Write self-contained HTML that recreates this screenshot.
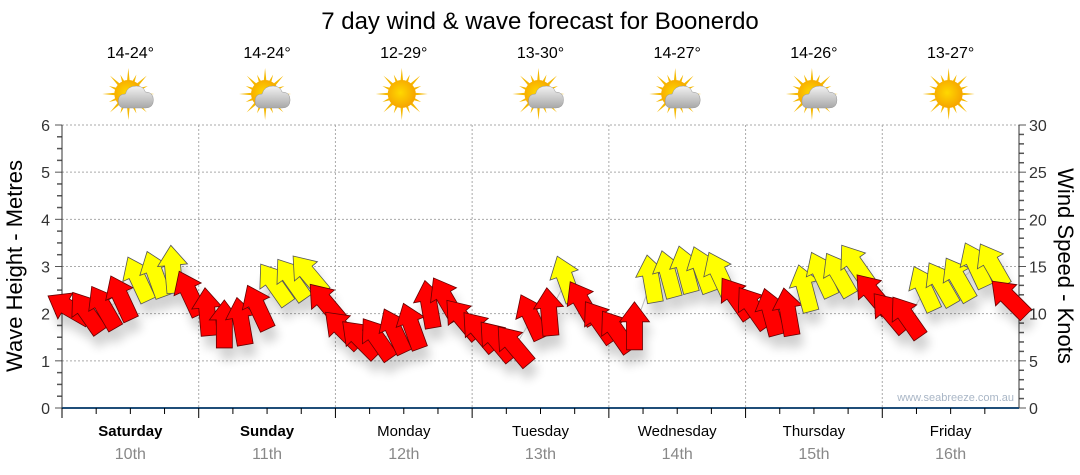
<!DOCTYPE html>
<html><head><meta charset="utf-8">
<style>
html,body{margin:0;padding:0;background:#fff;}
svg{display:block;font-family:"Liberation Sans",sans-serif;}
</style></head>
<body>
<svg id="chart" width="1080" height="475" viewBox="0 0 1080 475">
<defs>
<filter id="sh" x="-50%" y="-50%" width="200%" height="200%"><feGaussianBlur stdDeviation="5"/></filter>
<radialGradient id="sun" cx="0.45" cy="0.45" r="0.6"><stop offset="0" stop-color="#ffd800"/><stop offset="1" stop-color="#f5a000"/></radialGradient>
<linearGradient id="cloud" x1="0" y1="0" x2="0" y2="1"><stop offset="0" stop-color="#f2f2f2"/><stop offset="1" stop-color="#a8a8a8"/></linearGradient>
</defs>
<text x="540" y="29" text-anchor="middle" font-size="24" fill="#000">7 day wind &amp; wave forecast for Boonerdo</text>
<g id="grid"></g>
<g id="axes"></g>
<g id="days"></g>
<g id="shadow" filter="url(#sh)" opacity="0.18"></g>
<g id="arrows"></g>
<text transform="translate(22,266) rotate(-90)" text-anchor="middle" font-size="22" fill="#000">Wave Height - Metres</text>
<text transform="translate(1058,266) rotate(90)" text-anchor="middle" font-size="22" fill="#000">Wind Speed - Knots</text>
<text x="1014" y="401" text-anchor="end" font-size="11" fill="#a9b6c6">www.seabreeze.com.au</text>
</svg>
<script>
const dayNames = ["Saturday","Sunday","Monday","Tuesday","Wednesday","Thursday","Friday"];
const dayDates = ["10th","11th","12th","13th","14th","15th","16th"];
const temps = ["14-24°","14-24°","12-29°","13-30°","14-27°","14-26°","13-27°"];
const cloudy = [true,true,false,true,true,true,false];
const waveTicks = [0,1,2,3,4,5,6];
const windTicks = [0,5,10,15,20,25,30];
// 3-hourly wind speed (knots) and direction (degrees clockwise from up)
const windSpeed = [
 10.5,10,10.5,11.5,13.5,14,14.5,12,
 10,8.7,9,10.5,13,13.5,14,11,
 8.2,7.2,7.2,8,8.5,10.8,11.4,9.3,
 8,7,6.5,9.5,10,13.5,11,9,
 8,8.5,13.5,14,14.5,14.5,14,11.5,
 10.5,10,10,12.5,14,14,15,12,
 10,9.5,12.5,13,13.5,15,15,11.5];
const windDir = [
 -60,-35,-30,-25,-25,-20,-5,-25,
 -5,0,-10,-25,-35,-35,-40,-40,
 -45,-45,-35,-25,-20,-10,-30,-40,
 -40,-40,-40,-25,-5,-20,-30,-35,
 -35,0,-10,-15,-15,-20,-25,-35,
 -35,-15,-10,-15,-25,-30,-35,-40,
 -40,-35,-25,-30,-30,-25,-30,-45];

const NS="http://www.w3.org/2000/svg";
const X0=62, X1=1019, Y0=408, Y6=125;
const xH = h => X0 + h/168*(X1-X0);
const yWave = m => Y0 - m/6*(Y0-Y6);
const yWind = k => Y0 - k/30*(Y0-Y6);
function mk(tag, attrs, parent){const e=document.createElementNS(NS,tag);for(const k in attrs)e.setAttribute(k,attrs[k]);parent.appendChild(e);return e;}
const grid=document.getElementById('grid'), axes=document.getElementById('axes'), days=document.getElementById('days');

waveTicks.forEach(m=>{
  const y=yWave(m);
  if(m>0){const l=mk('line',{x1:X0,x2:X1,y1:y,y2:y,stroke:'#aaa','stroke-dasharray':'2,2'},grid);
  
  }
  const t=mk('text',{x:X0-12,y:y+6,'text-anchor':'end','font-size':16,fill:'#333'},axes);t.textContent=m;
  
  
});
for(let i=0;i<=24;i++){const y=yWave(i/4);mk('line',{x1:X0-(i%4?5:7),x2:X0,y1:y,y2:y,stroke:'#555','stroke-width':i%4?1.5:1},axes);}
windTicks.forEach(k=>{
  const y=yWind(k);
  const t=mk('text',{x:X1+10,y:y+6,'font-size':16,fill:'#333'},axes);t.textContent=k;
  
  
});
for(let i=0;i<=30;i++){const y=yWind(i);mk('line',{x1:X1,x2:X1+(i%5?5:7),y1:y,y2:y,stroke:'#555','stroke-width':i%5?1.5:1},axes);}
mk('line',{x1:X0,x2:X0,y1:Y6,y2:Y0,stroke:'#333'},axes);
mk('line',{x1:X1,x2:X1,y1:Y6,y2:Y0,stroke:'#333'},axes);
mk('line',{x1:X0,x2:X1,y1:Y0,y2:Y0,stroke:'#1f4e79','stroke-width':2},axes);

dayNames.forEach((d,i)=>{
  const xs=xH(i*24), xc=xH(i*24+12);
  if(i>0){const l=mk('line',{x1:xs,x2:xs,y1:Y6,y2:Y0,stroke:'#aaa','stroke-dasharray':'2,2'},grid);
  
  }
  mk('line',{x1:xs,x2:xs,y1:Y0,y2:Y0+10,stroke:'#000'},axes);
  for(let j=1;j<4;j++){const x=xH(i*24+j*6);mk('line',{x1:x,x2:x,y1:Y0,y2:Y0+6,stroke:'#000'},axes);}
  const n=mk('text',{x:xc,y:436,'text-anchor':'middle','font-size':15,fill:'#000','font-weight':i<2?'bold':'normal'},days);n.textContent=d;
  
  
  const dt=mk('text',{x:xc,y:459,'text-anchor':'middle','font-size':16,fill:'#888'},days);dt.textContent=dayDates[i];
  
  
  const tp=mk('text',{x:xc,y:58,'text-anchor':'middle','font-size':16,fill:'#000'},days);tp.textContent=temps[i];
  
  
  const ic=mk('g',{transform:`translate(${xc-2},94)`},days);
  
  
  for(let r=0;r<16;r++){const a=r*Math.PI/8, L=r%2?21:26;
    mk('polygon',{points:`${Math.cos(a-0.12)*12},${Math.sin(a-0.12)*12} ${Math.cos(a)*L},${Math.sin(a)*L} ${Math.cos(a+0.12)*12},${Math.sin(a+0.12)*12}`,fill:'#f5b800'},ic);}
  mk('circle',{cx:0,cy:0,r:14,fill:'url(#sun)'},ic);
  if(cloudy[i]){mk('path',{d:'M-4,14 Q-10,14 -10,7 Q-10,0 -3,0 Q-1,-8 8,-8 Q15,-8 17,-2 Q25,-2 25,6 Q25,14 17,14 Z',fill:'url(#cloud)',stroke:'#999','stroke-width':0.5},ic);}
});

const arrows=document.getElementById('arrows'), shadow=document.getElementById('shadow');
const pts=windSpeed.map((k,i)=>[xH(i*3+1.5),yWind(k)]);
const pl=mk('polyline',{points:pts.map(p=>p.join(',')).join(' '),fill:'none',stroke:'#bbb','stroke-width':1},arrows);


const shape='0,-26 15,-6 8,-6 8,22 -8,22 -8,-6 -15,-6';
windSpeed.forEach((k,i)=>{
  const [x,y]=pts[i];
  mk('polygon',{points:shape,fill:'#000',transform:`translate(${x+4},${y+12}) rotate(${windDir[i]})`},shadow);
  const a=mk('polygon',{points:shape,fill:k>=12.5?'#ffff00':'#ff0000',stroke:k>=12.5?'#555':'#600','stroke-width':0.8,transform:`translate(${x},${y}) rotate(${windDir[i]})`},arrows);
  
  
});
</script>
</body></html>
